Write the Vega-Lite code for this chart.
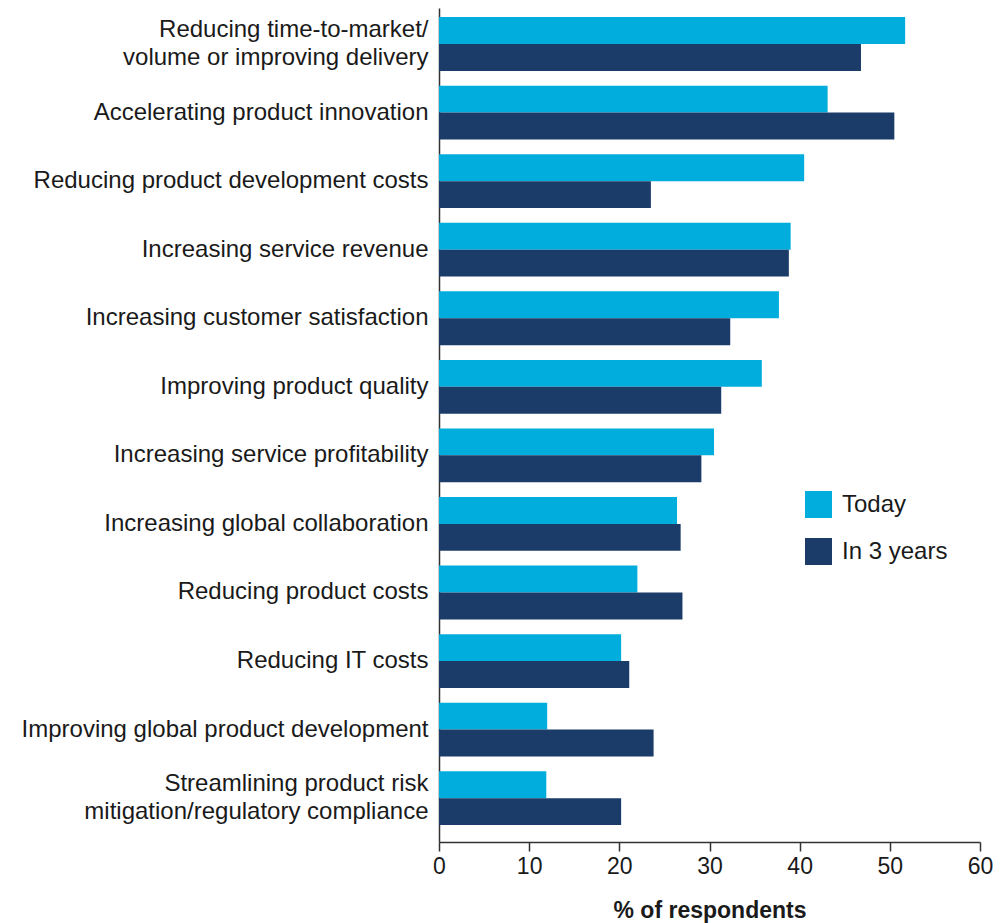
{
  "$schema": "https://vega.github.io/schema/vega-lite/v6.json",
  "autosize": {"type": "none"},
  "padding": {"left": 439, "top": 8, "right": 28, "bottom": 81},
  "width": 541,
  "height": 834,
  "background": "white",
  "config": {
    "view": {"stroke": null},
    "font": "Liberation Sans"
  },
  "data": {
    "values": [
      {"cat": "Reducing time-to-market/|volume or improving delivery", "series": "Today", "value": 51.7},
      {"cat": "Reducing time-to-market/|volume or improving delivery", "series": "In 3 years", "value": 46.8},
      {"cat": "Accelerating product innovation", "series": "Today", "value": 43.1},
      {"cat": "Accelerating product innovation", "series": "In 3 years", "value": 50.5},
      {"cat": "Reducing product development costs", "series": "Today", "value": 40.5},
      {"cat": "Reducing product development costs", "series": "In 3 years", "value": 23.5},
      {"cat": "Increasing service revenue", "series": "Today", "value": 39.0},
      {"cat": "Increasing service revenue", "series": "In 3 years", "value": 38.8},
      {"cat": "Increasing customer satisfaction", "series": "Today", "value": 37.7},
      {"cat": "Increasing customer satisfaction", "series": "In 3 years", "value": 32.3},
      {"cat": "Improving product quality", "series": "Today", "value": 35.8},
      {"cat": "Improving product quality", "series": "In 3 years", "value": 31.3},
      {"cat": "Increasing service profitability", "series": "Today", "value": 30.5},
      {"cat": "Increasing service profitability", "series": "In 3 years", "value": 29.1},
      {"cat": "Increasing global collaboration", "series": "Today", "value": 26.4},
      {"cat": "Increasing global collaboration", "series": "In 3 years", "value": 26.8},
      {"cat": "Reducing product costs", "series": "Today", "value": 22.0},
      {"cat": "Reducing product costs", "series": "In 3 years", "value": 27.0},
      {"cat": "Reducing IT costs", "series": "Today", "value": 20.2},
      {"cat": "Reducing IT costs", "series": "In 3 years", "value": 21.1},
      {"cat": "Improving global product development", "series": "Today", "value": 12.0},
      {"cat": "Improving global product development", "series": "In 3 years", "value": 23.8},
      {"cat": "Streamlining product risk|mitigation/regulatory compliance", "series": "Today", "value": 11.9},
      {"cat": "Streamlining product risk|mitigation/regulatory compliance", "series": "In 3 years", "value": 20.2}
    ]
  },
  "mark": {"type": "bar"},
  "encoding": {
    "y": {
      "field": "cat",
      "type": "nominal",
      "sort": null,
      "scale": {"paddingInner": 0.215, "paddingOuter": 0.19, "align": 0.35},
      "axis": {
        "title": null,
        "ticks": false,
        "domainColor": "#333333",
        "domainWidth": 1.5,
        "labelFontSize": 24,
        "labelColor": "#1a1a1a",
        "labelPadding": 11,
        "labelLimit": 500,
        "labelLineHeight": 28,
        "labelExpr": "split(datum.label, '|')",
        "labelOffset": {"condition": {"test": "indexof(datum.value, '|') >= 0", "value": -14}, "value": 0}
      }
    },
    "yOffset": {
      "field": "series",
      "type": "nominal",
      "sort": ["Today", "In 3 years"],
      "scale": {"paddingInner": 0, "paddingOuter": 0}
    },
    "x": {
      "field": "value",
      "type": "quantitative",
      "scale": {"domain": [0, 60], "nice": false},
      "axis": {
        "title": "% of respondents",
        "titleFontSize": 23,
        "titleFontWeight": "bold",
        "titleColor": "#1a1a1a",
        "titlePadding": 21,
        "values": [0, 10, 20, 30, 40, 50, 60],
        "grid": false,
        "domainColor": "#333333",
        "domainWidth": 1.5,
        "tickColor": "#333333",
        "tickWidth": 1.5,
        "tickSize": 9,
        "labelFontSize": 23,
        "labelColor": "#1a1a1a",
        "labelPadding": 4,
        "labelFlush": false
      }
    },
    "color": {
      "field": "series",
      "type": "nominal",
      "sort": ["Today", "In 3 years"],
      "scale": {"domain": ["Today", "In 3 years"], "range": ["#00ADDC", "#1B3C69"]},
      "legend": {
        "title": null,
        "orient": "none",
        "legendX": 366,
        "legendY": 483,
        "symbolType": "square",
        "symbolSize": 729,
        "symbolStrokeWidth": 0,
        "labelFontSize": 24,
        "labelColor": "#1a1a1a",
        "labelOffset": 10,
        "rowPadding": 20
      }
    }
  }
}
